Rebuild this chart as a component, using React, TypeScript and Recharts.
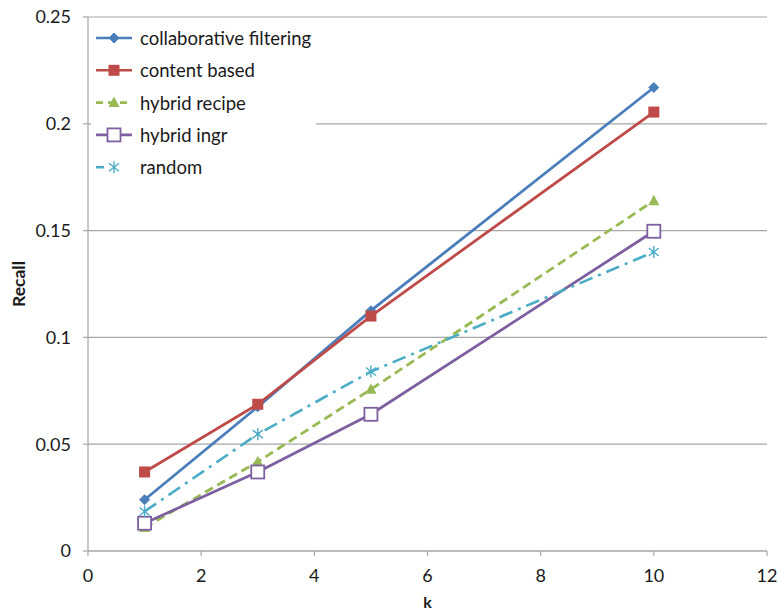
import React from "react";
import { LineChart, Line, XAxis, YAxis, CartesianGrid, Legend } from "recharts";

// k values (number of recommendations)
const kValues = [1, 3, 5, 10];

// Recall per method
const collaborative = [0.024, 0.0675, 0.1125, 0.217];
const contentBased = [0.037, 0.0687, 0.11, 0.2055];
const hybridRecipe = [0.011, 0.0418, 0.0757, 0.164];
const hybridIngr = [0.013, 0.037, 0.064, 0.1497];
const randomRec = [0.0185, 0.0547, 0.084, 0.14];

const xTicks = [0, 2, 4, 6, 8, 10, 12];
const yTicks = [0, 0.05, 0.1, 0.15, 0.2, 0.25];

const seriesNames = [
  "collaborative filtering",
  "content based",
  "hybrid recipe",
  "hybrid ingr",
  "random",
];

const data = kValues.map((k, i) => ({
  k,
  collab: collaborative[i],
  content: contentBased[i],
  recipe: hybridRecipe[i],
  ingr: hybridIngr[i],
  random: randomRec[i],
}));

const FONT = "Lato, 'Liberation Sans', sans-serif";
const TEXT = "#1a1a1a";
const BLUE = "#4a7ebb";
const RED = "#be4b48";
const GREEN = "#98b954";
const PURPLE = "#7d60a0";
const CYAN = "#4bacc6";
const GRID = "#a6a6a6";

type MarkerKind = "diamond" | "square" | "triangle" | "hollowSquare" | "asterisk";

function Marker({ kind, cx, cy, color }: { kind: MarkerKind; cx: number; cy: number; color: string }) {
  switch (kind) {
    case "diamond":
      return (
        <polygon
          points={`${cx},${cy - 5} ${cx + 5},${cy} ${cx},${cy + 5} ${cx - 5},${cy}`}
          fill={color}
          stroke={color}
          strokeWidth={1}
        />
      );
    case "square":
      return <rect x={cx - 5.5} y={cy - 5.5} width={11} height={11} fill={color} />;
    case "triangle":
      return (
        <polygon
          points={`${cx},${cy - 6} ${cx + 5.5},${cy + 4.5} ${cx - 5.5},${cy + 4.5}`}
          fill={color}
        />
      );
    case "hollowSquare":
      return (
        <rect
          x={cx - 6.5}
          y={cy - 6.5}
          width={13}
          height={13}
          fill="#ffffff"
          stroke={color}
          strokeWidth={1.8}
        />
      );
    case "asterisk":
    default:
      return (
        <g stroke={color} strokeWidth={1.4}>
          <line x1={cx} y1={cy - 6} x2={cx} y2={cy + 6} />
          <line x1={cx - 5} y1={cy - 4} x2={cx + 5} y2={cy + 4} />
          <line x1={cx - 5} y1={cy + 4} x2={cx + 5} y2={cy - 4} />
        </g>
      );
  }
}

const markerDot =
  (kind: MarkerKind, color: string) =>
  (props: any) => {
    const { cx, cy, index } = props;
    if (cx == null || cy == null) return <g key={`m-${index}`} />;
    return (
      <g key={`m-${kind}-${index}`}>
        <Marker kind={kind} cx={cx} cy={cy} color={color} />
      </g>
    );
  };

const legendStyles: { color: string; dash?: string; kind: MarkerKind; short?: boolean }[] = [
  { color: BLUE, kind: "diamond" },
  { color: RED, kind: "square" },
  { color: GREEN, kind: "triangle", dash: "7 5" },
  { color: PURPLE, kind: "hollowSquare" },
  { color: CYAN, kind: "asterisk", short: true },
];

function LegendBox() {
  const rowH = 32.3;
  return (
    <div style={{ background: "#ffffff", width: 225, height: 162 }}>
      <svg width={225} height={162} style={{ display: "block" }}>
        {seriesNames.map((name, i) => {
          const st = legendStyles[i];
          const y = 15 + i * rowH;
          return (
            <g key={name}>
              {st.short ? (
                <line x1={5} y1={y} x2={13} y2={y} stroke={st.color} strokeWidth={2.6} />
              ) : (
                <line
                  x1={5}
                  y1={y}
                  x2={41}
                  y2={y}
                  stroke={st.color}
                  strokeWidth={2.6}
                  strokeDasharray={st.dash}
                />
              )}
              <Marker kind={st.kind} cx={23} cy={y} color={st.color} />
              <text
                x={49}
                y={y}
                dominantBaseline="central"
                fontFamily={FONT}
                fontSize={18.5}
                fill={TEXT}
              >
                {name}
              </text>
            </g>
          );
        })}
      </svg>
    </div>
  );
}

export default function App() {
  return (
    <div style={{ position: "absolute", left: 0, top: 0, background: "#fff" }}>
      <LineChart
        width={778}
        height={611}
        data={data}
        margin={{ top: 17, right: 11, bottom: 0, left: 0 }}
      >
        <CartesianGrid vertical={false} stroke={GRID} strokeWidth={1.2} />
        <XAxis
          dataKey="k"
          type="number"
          domain={[0, 12]}
          ticks={xTicks}
          interval={0}
          height={60}
          axisLine={{ stroke: GRID, strokeWidth: 1.2 }}
          tickLine={{ stroke: GRID, strokeWidth: 1.2 }}
          tickSize={5}
          tickMargin={13}
          tick={{ fill: TEXT, fontSize: 18, fontFamily: FONT }}
          label={{
            value: "k",
            position: "insideBottom",
            offset: 3,
            fill: TEXT,
            fontSize: 16,
            fontWeight: "bold",
            fontFamily: FONT,
          }}
        />
        <YAxis
          type="number"
          domain={[0, 0.25]}
          ticks={yTicks}
          interval={0}
          width={88}
          axisLine={{ stroke: GRID, strokeWidth: 1.2 }}
          tickLine={{ stroke: GRID, strokeWidth: 1.2 }}
          tickSize={5}
          tickMargin={12}
          tick={{ fill: TEXT, fontSize: 18, fontFamily: FONT }}
          label={(props: any) => {
            const vb = props.viewBox || { x: 0, y: 17, width: 88, height: 534 };
            const x = vb.x + 18;
            const y = vb.y + vb.height / 2;
            return (
              <text
                x={x}
                y={y}
                transform={`rotate(-90, ${x}, ${y})`}
                textAnchor="middle"
                dominantBaseline="central"
                fontFamily={FONT}
                fontSize={17.5}
                fontWeight="bold"
                fill={TEXT}
              >
                Recall
              </text>
            );
          }}
        />
        <Legend
          content={() => <LegendBox />}
          layout="horizontal"
          verticalAlign="middle"
          align="center"
          wrapperStyle={{ position: "absolute", left: 91, top: 23, width: 225, height: 162 }}
        />
        <Line
          dataKey="collab"
          name={seriesNames[0]}
          stroke={BLUE}
          strokeWidth={2.8}
          dot={markerDot("diamond", BLUE)}
          activeDot={false}
          isAnimationActive={false}
        />
        <Line
          dataKey="content"
          name={seriesNames[1]}
          stroke={RED}
          strokeWidth={2.8}
          dot={markerDot("square", RED)}
          activeDot={false}
          isAnimationActive={false}
        />
        <Line
          dataKey="recipe"
          name={seriesNames[2]}
          stroke={GREEN}
          strokeWidth={2.8}
          strokeDasharray="9 5"
          dot={markerDot("triangle", GREEN)}
          activeDot={false}
          isAnimationActive={false}
        />
        <Line
          dataKey="ingr"
          name={seriesNames[3]}
          stroke={PURPLE}
          strokeWidth={2.8}
          dot={markerDot("hollowSquare", PURPLE)}
          activeDot={false}
          isAnimationActive={false}
        />
        <Line
          dataKey="random"
          name={seriesNames[4]}
          stroke={CYAN}
          strokeWidth={2.6}
          strokeDasharray="14 6 3 6"
          dot={markerDot("asterisk", CYAN)}
          activeDot={false}
          isAnimationActive={false}
        />
      </LineChart>
    </div>
  );
}
